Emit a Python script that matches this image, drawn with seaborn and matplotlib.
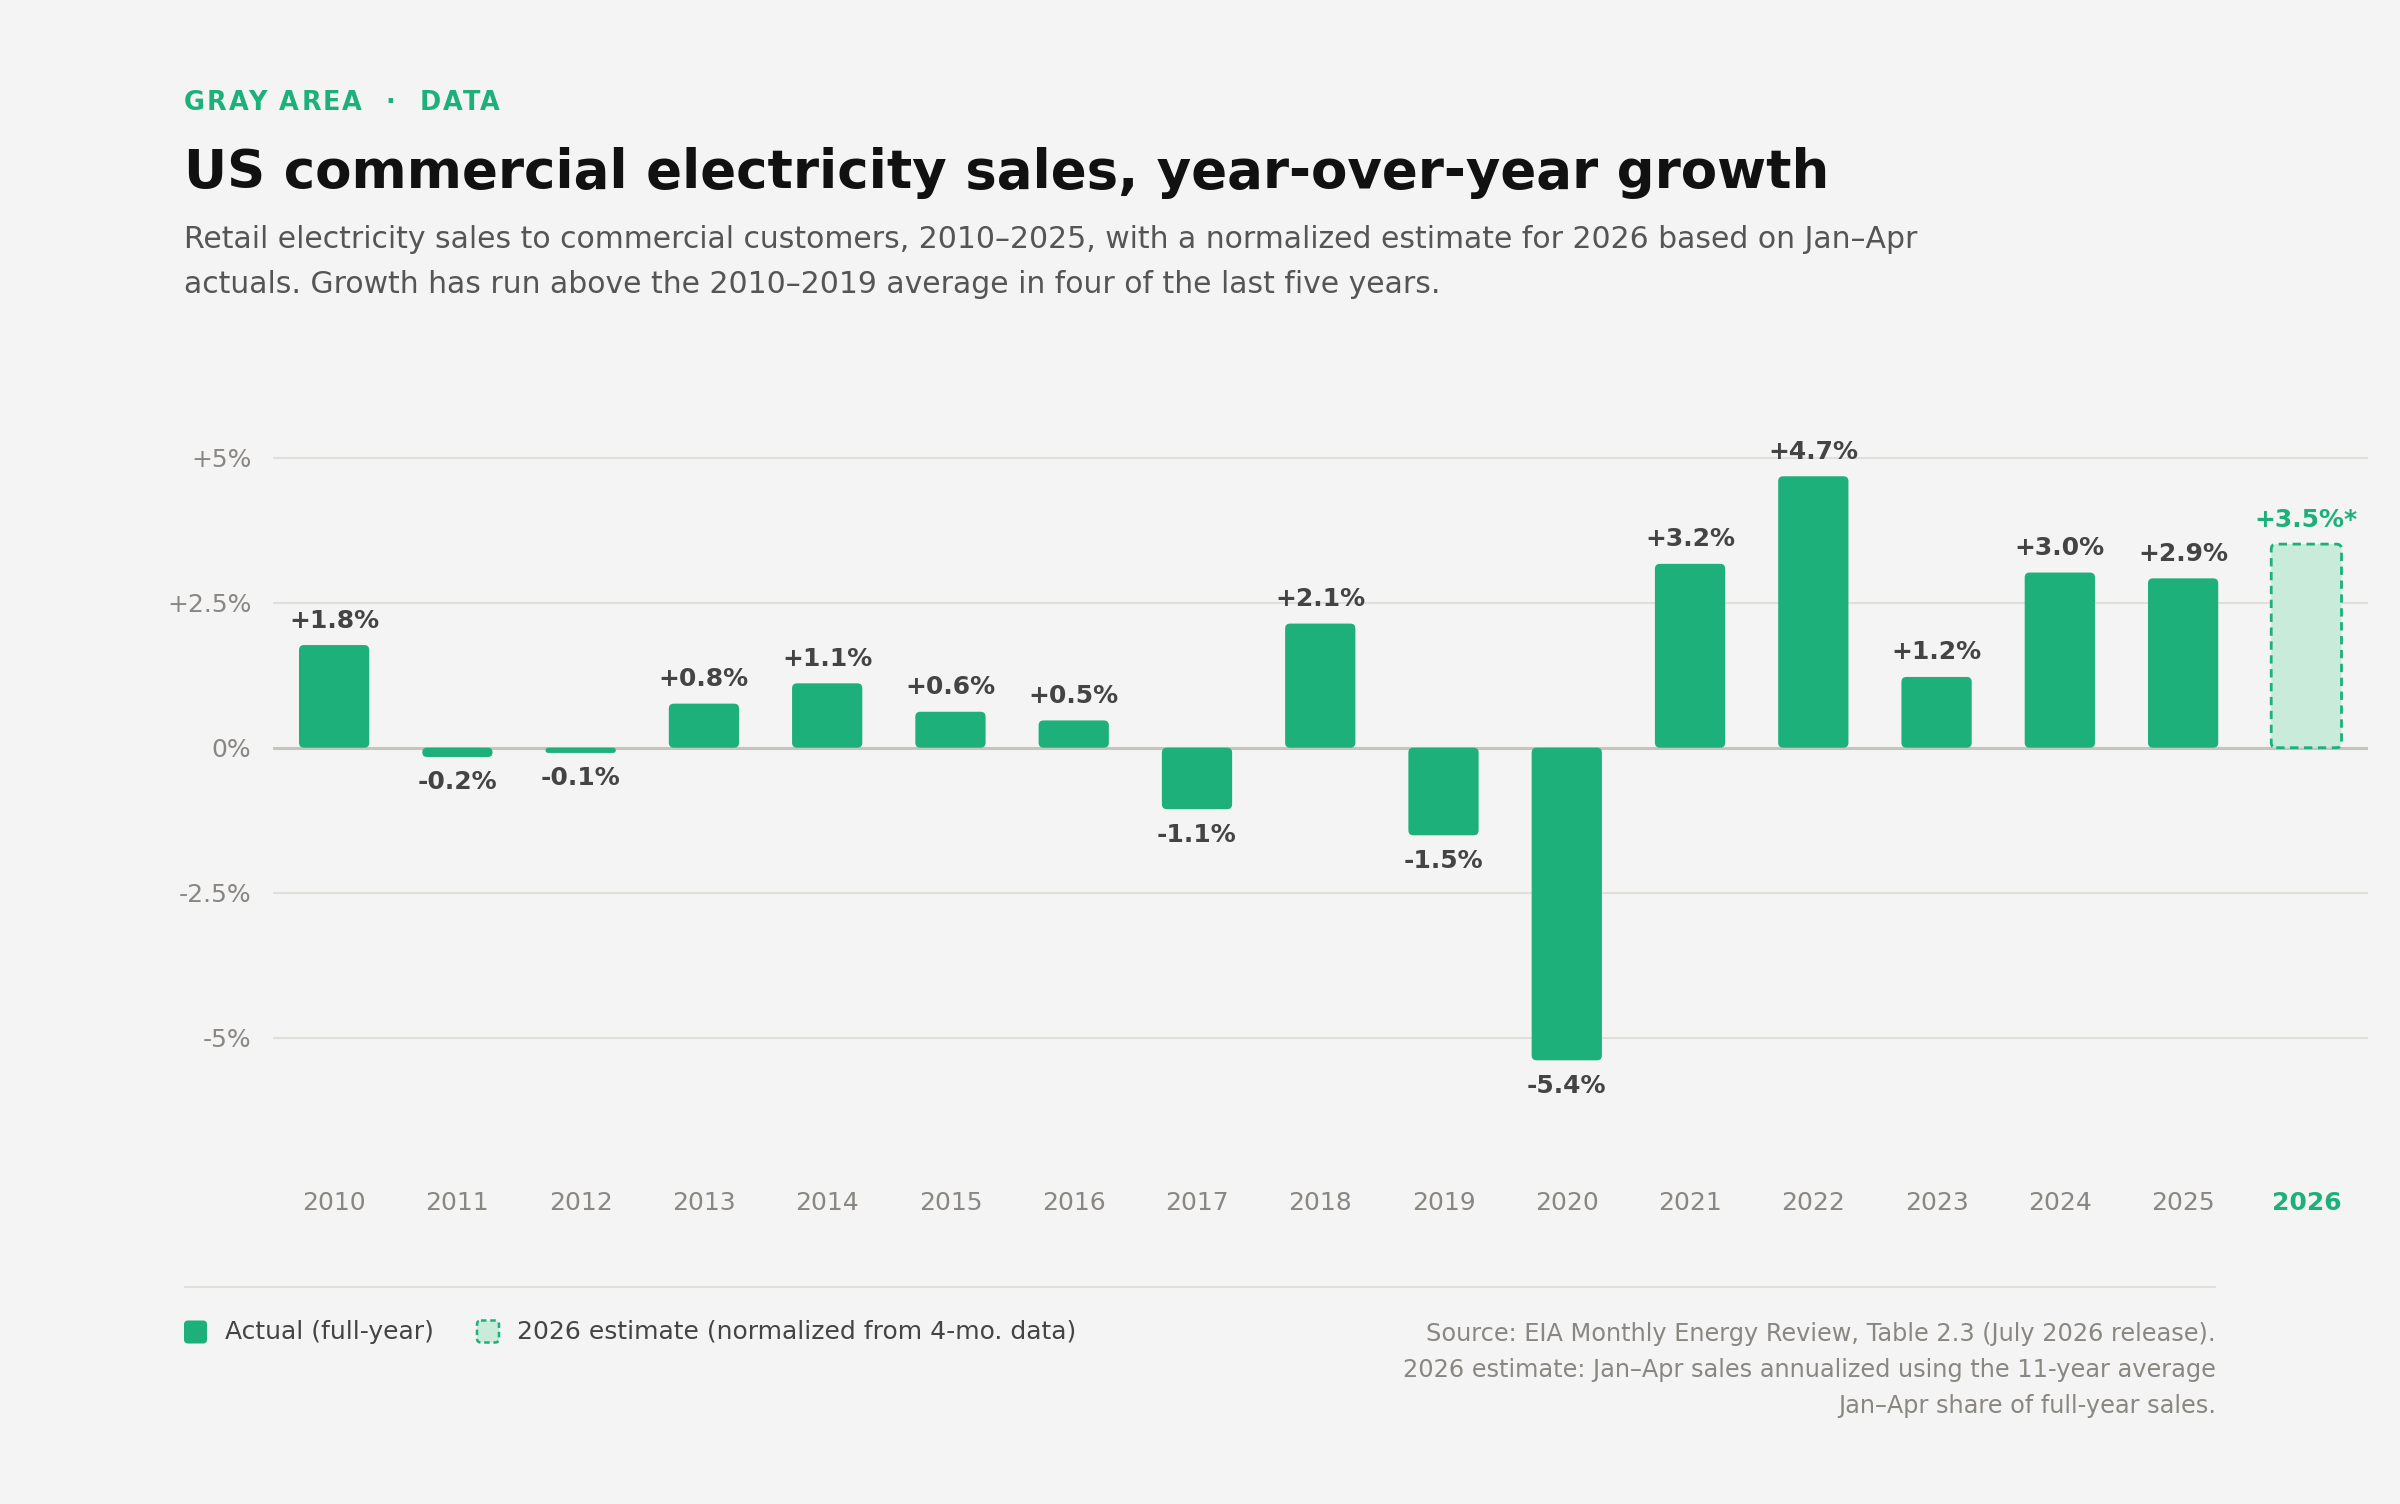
import numpy as np
import pandas as pd
import matplotlib
matplotlib.use("Agg")
import matplotlib.pyplot as plt
import seaborn as sns
from matplotlib.patches import FancyBboxPatch
from matplotlib.font_manager import FontProperties

# ---------------- data ----------------
years = ["2010", "2011", "2012", "2013", "2014", "2015", "2016", "2017", "2018",
         "2019", "2020", "2021", "2022", "2023", "2024", "2025", "2026"]
growth = [1.77, -0.16, -0.09, 0.76, 1.11, 0.62, 0.47, -1.06, 2.14,
          -1.51, -5.39, 3.17, 4.68, 1.22, 3.02, 2.92, 3.51]
is_estimate = [False] * 16 + [True]
ytick_values = [-5, -2.5, 0, 2.5, 5]
ytick_labels = ["-5%", "-2.5%", "0%", "+2.5%", "+5%"]

kicker = "GRAY AREA  \u00b7  DATA"
title = "US commercial electricity sales, year-over-year growth"
subtitle = ["Retail electricity sales to commercial customers, 2010\u20132025, with a normalized estimate for 2026 based on Jan\u2013Apr",
            "actuals. Growth has run above the 2010\u20132019 average in four of the last five years."]
legend_labels = ["Actual (full-year)", "2026 estimate (normalized from 4-mo. data)"]
source_lines = ["Source: EIA Monthly Energy Review, Table 2.3 (July 2026 release).",
                "2026 estimate: Jan\u2013Apr sales annualized using the 11-year average",
                "Jan\u2013Apr share of full-year sales."]

# ---------------- style ----------------
BG = "#f4f4f4"
GREEN = "#1db07b"
LIGHT = "#c9ebda"
DARK = "#444444"
GRAY = "#8a8681"
GRID = "#e0dfdb"
ZERO = "#c6c4bd"

sns.set_theme(style="white")
plt.rcParams["font.family"] = ["DejaVu Sans"]

W, H = 2400, 1504
DPI = 200
fig = plt.figure(figsize=(W / DPI, H / DPI), dpi=DPI, facecolor=BG)

ax_l, ax_r, ax_t, ax_b = 272.5, 2368, 370.7, 1182.7
ax = fig.add_axes([ax_l / W, 1 - ax_b / H, (ax_r - ax_l) / W, (ax_b - ax_t) / H])
ax.set_facecolor(BG)

df = pd.DataFrame({"year": years, "growth": growth})
sns.barplot(data=df, x="year", y="growth", color=GREEN, saturation=1,
            width=0.57, ax=ax, zorder=2)

xlim = (-0.5, 16.5)
ylim = (-7.5, 6.5)
ax.set_xlim(*xlim)
ax.set_ylim(*ylim)

# gridlines
for t in ytick_values:
    if t == 0:
        continue
    ax.axhline(t, color=GRID, lw=0.75, zorder=0)
ax.axhline(0, color=ZERO, lw=1.1, zorder=1)

# rounded bars
xunit = (ax_r - ax_l) / (xlim[1] - xlim[0])
yunit = (ax_b - ax_t) / (ylim[1] - ylim[0])
aspect = xunit / yunit
r_px = 5
for i, p in enumerate(list(ax.patches)):
    x0, w = p.get_x(), p.get_width()
    y, h = p.get_y(), p.get_height()
    y0, hh = min(y, y + h), abs(h)
    r = min(r_px / xunit, w / 2, hh / aspect / 2)
    p.set_visible(False)
    if is_estimate[i]:
        fb = FancyBboxPatch((x0, y0), w, hh, boxstyle=f"round,pad=0,rounding_size={r}",
                            mutation_aspect=aspect, facecolor=LIGHT, edgecolor=GREEN,
                            linewidth=1.0, linestyle=(0, (3, 2)), zorder=2)
    else:
        fb = FancyBboxPatch((x0, y0), w, hh, boxstyle=f"round,pad=0,rounding_size={r}",
                            mutation_aspect=aspect, facecolor=GREEN, edgecolor="none",
                            zorder=2)
    ax.add_patch(fb)

# value labels
for i, v in enumerate(growth):
    lbl = f"{v:+.1f}%" + ("*" if is_estimate[i] else "")
    col = GREEN if is_estimate[i] else DARK
    if v >= 0:
        ax.annotate(lbl, (i, v), xytext=(0, 6.3), textcoords="offset points",
                    ha="center", va="baseline", fontsize=9, fontweight="bold", color=col)
    else:
        ax.annotate(lbl, (i, v), xytext=(0, -4.8), textcoords="offset points",
                    ha="center", va="top", fontsize=9, fontweight="bold", color=DARK)

ax.set_yticks(ytick_values)
ax.set_yticklabels(ytick_labels)
ax.set_xlabel("")
ax.set_ylabel("")
for s in ax.spines.values():
    s.set_visible(False)
ax.tick_params(axis="both", length=0, labelsize=9, labelcolor=GRAY)
ax.tick_params(axis="y", pad=7.6)
ax.tick_params(axis="x", pad=3.0)
for i, lab in enumerate(ax.get_xticklabels()):
    if is_estimate[i]:
        lab.set_color(GREEN)
        lab.set_fontweight("bold")
ax.grid(False)

# ---------------- overlay (pixel coords) ----------------
ov = fig.add_axes([0, 0, 1, 1], zorder=5)
ov.set_xlim(0, W)
ov.set_ylim(H, 0)
ov.axis("off")
ov.patch.set_alpha(0)

LX = 184

# kicker with letter spacing
canvas = fig.canvas
renderer = canvas.get_renderer()
k_size = 9.2
k_prop = FontProperties(family="DejaVu Sans", weight="bold", size=k_size)
px_per_pt = DPI / 72.0
ls_px = 0.08 * k_size * px_per_pt


def text_w(s):
    w, _, _ = renderer.get_text_width_height_descent(s, k_prop, ismath=False)
    return w


for k, ch in enumerate(kicker):
    if ch == " ":
        continue
    xk = LX + text_w(kicker[:k + 1]) - text_w(ch) + k * ls_px
    ov.text(xk, 110, ch, fontproperties=k_prop, color=GREEN, va="baseline", ha="left")

ov.text(LX, 187.7, title, fontsize=19.1, fontweight="bold", color="#111111", va="baseline", ha="left")
ov.text(LX, 248.3, subtitle[0], fontsize=10.78, color="#555555", va="baseline", ha="left")
ov.text(LX, 293.3, subtitle[1], fontsize=10.78, color="#555555", va="baseline", ha="left")

# separator
ov.plot([LX, 2216], [1286.7, 1286.7], color=GRID, lw=0.75, solid_capstyle="butt")

# legend
ov.add_patch(FancyBboxPatch((LX, 1320.5), 23, 23, boxstyle="round,pad=0,rounding_size=4",
                            facecolor=GREEN, edgecolor="none"))
ov.text(224.6, 1332, legend_labels[0], fontsize=9.0, color=DARK, va="center", ha="left")
ov.add_patch(FancyBboxPatch((477, 1320.5), 22, 22, boxstyle="round,pad=0,rounding_size=4",
                            facecolor=LIGHT, edgecolor=GREEN, lw=0.9, linestyle=(0, (2.2, 1.5))))
ov.text(517, 1332, legend_labels[1], fontsize=9.0, color=DARK, va="center", ha="left")

# source
for k, (line, yy) in enumerate(zip(source_lines, [1334, 1369.5, 1405.5])):
    ov.text(2216, yy, line, fontsize=8.65, color=GRAY, va="center", ha="right")

fig.savefig("out.png", dpi=DPI, facecolor=BG)
